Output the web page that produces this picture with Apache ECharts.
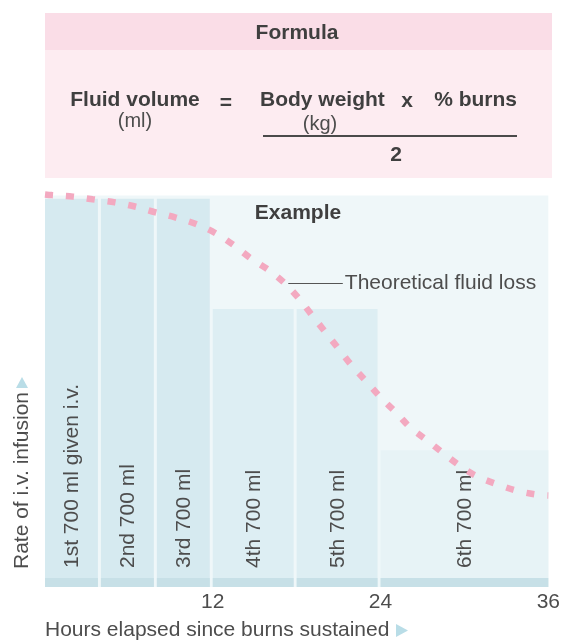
<!DOCTYPE html>
<html>
<head>
<meta charset="utf-8">
<script src="https://cdn.jsdelivr.net/npm/echarts@6/dist/echarts.min.js"></script>
<style>
  html, body { margin: 0; padding: 0; background: #ffffff; }
  #chart { width: 563px; height: 642px; }
</style>
</head>
<body>
<div id="chart"></div>
<script>
// Infusion schedule: each 700 ml portion given over a time window (hours)
const doseLabels = ['1st 700 ml given i.v.', '2nd 700 ml', '3rd 700 ml', '4th 700 ml', '5th 700 ml', '6th 700 ml'];
const doseStart = [0, 4, 8, 12, 18, 24];
const doseEnd = [4, 8, 12, 18, 24, 36];
// Relative rate of infusion (bar height)
const infusionRate = [176, 176, 176, 126, 126, 62];
const doseColors = ['#d6eaf0', '#d6eaf0', '#d6eaf0', '#ddeef3', '#ddeef3', '#e7f3f6'];

// Theoretical fluid loss curve (hours, relative rate)
const lossHours = [0, 0.5, 2, 3.4, 5, 6.5, 7.9, 9.3, 10.8, 12.2, 13.5, 14.7, 16, 17.2, 18.2, 19, 20, 21, 22, 23.1, 24, 25.2, 26.1, 27.3, 28.5, 29.6, 30.8, 32.5, 33.9, 35.3, 36];
const lossRate = [178, 177.7, 177, 175.8, 174.4, 172.4, 169.9, 167.6, 164.6, 160.4, 155, 149.1, 143.7, 137.4, 130.5, 124, 116, 108, 100, 92.4, 86, 78.5, 72.5, 66.6, 60.6, 55.3, 50.5, 46.2, 43.4, 41.8, 41.5];

// Axis ticks
const hoursTicks = [12, 24, 36];

const FONT = 'Liberation Sans';
const TEXT = '#4d4d4d';
const BOLD = '#3f3f3f';

const chart = echarts.init(document.getElementById('chart'), null, { renderer: 'canvas' });

const doseData = doseLabels.map((name, i) => [doseStart[i], doseEnd[i], infusionRate[i], i]);
const STRIP = 4.1;

const option = {
  animation: false,
  backgroundColor: '#ffffff',
  grid: { left: 45, right: 10, top: 190, bottom: 55 },
  xAxis: {
    type: 'value', min: 0, max: 36, interval: 12,
    axisLine: { show: false }, axisTick: { show: false }, splitLine: { show: false },
    axisLabel: {
      customValues: hoursTicks,
      color: TEXT, fontFamily: FONT, fontSize: 21, margin: 5
    }
  },
  yAxis: {
    type: 'value', min: 0, max: 180,
    axisLine: { show: false }, axisTick: { show: false },
    axisLabel: { show: false }, splitLine: { show: false }
  },
  graphic: [
    // Formula panel
    { type: 'rect', shape: { x: 45, y: 13, width: 507, height: 37 }, style: { fill: '#fadde7' }, z: 0 },
    { type: 'rect', shape: { x: 45, y: 50, width: 507, height: 128 }, style: { fill: '#fdecf1' }, z: 0 },
    { type: 'text', x: 297, y: 33, style: { text: 'Formula', fill: BOLD, font: 'bold 21px ' + FONT, align: 'center', verticalAlign: 'middle' } },
    { type: 'text', x: 135, y: 100, style: { text: 'Fluid volume', fill: BOLD, font: 'bold 21px ' + FONT, align: 'center', verticalAlign: 'middle' } },
    { type: 'text', x: 135, y: 121, style: { text: '(ml)', fill: TEXT, font: '20px ' + FONT, align: 'center', verticalAlign: 'middle' } },
    { type: 'text', x: 226, y: 103, style: { text: '=', fill: BOLD, font: 'bold 21px ' + FONT, align: 'center', verticalAlign: 'middle' } },
    { type: 'text', x: 260, y: 100, style: { text: 'Body weight', fill: BOLD, font: 'bold 21px ' + FONT, align: 'left', verticalAlign: 'middle' } },
    { type: 'text', x: 407, y: 101, style: { text: 'x', fill: BOLD, font: 'bold 21px ' + FONT, align: 'center', verticalAlign: 'middle' } },
    { type: 'text', x: 517, y: 100, style: { text: '% burns', fill: BOLD, font: 'bold 21px ' + FONT, align: 'right', verticalAlign: 'middle' } },
    { type: 'text', x: 320, y: 124, style: { text: '(kg)', fill: TEXT, font: '20px ' + FONT, align: 'center', verticalAlign: 'middle' } },
    { type: 'line', shape: { x1: 263, y1: 136, x2: 517, y2: 136 }, style: { stroke: '#4a4a4a', lineWidth: 2 } },
    { type: 'text', x: 396, y: 155, style: { text: '2', fill: BOLD, font: 'bold 21px ' + FONT, align: 'center', verticalAlign: 'middle' } },
    // Example heading
    { type: 'text', x: 298, y: 213, z: 10, style: { text: 'Example', fill: BOLD, font: 'bold 21px ' + FONT, align: 'center', verticalAlign: 'middle' } },
    // Axis titles with arrow heads
    { type: 'text', x: 22, y: 569, rotation: Math.PI / 2, style: { text: 'Rate of i.v. infusion', fill: TEXT, font: '21px ' + FONT, align: 'left', verticalAlign: 'middle' } },
    { type: 'polygon', shape: { points: [[16, 388], [28, 388], [22, 377]] }, style: { fill: '#b9dde7' } },
    { type: 'text', x: 45, y: 630, style: { text: 'Hours elapsed since burns sustained', fill: TEXT, font: '21px ' + FONT, align: 'left', verticalAlign: 'middle' } },
    { type: 'polygon', shape: { points: [[396, 624], [396, 637], [408, 630.5]] }, style: { fill: '#b9dde7' } }
  ],
  series: [
    {
      // plot background
      type: 'line', data: [], z: 1, silent: true,
      markArea: {
        silent: true,
        itemStyle: { color: '#eff7f9' },
        data: [[{ coord: [0, 0] }, { coord: [36, 177.5] }]]
      }
    },
    {
      type: 'custom', z: 2, silent: true,
      data: doseData,
      renderItem: function (params, api) {
        const s = api.value(0), e = api.value(1), r = api.value(2);
        const idx = api.value(3);
        const base = api.coord([s, 0]);
        const top = api.coord([e, r]);
        const stripTop = api.coord([s, STRIP]);
        const gap = idx < doseLabels.length - 1 ? 3 : 0;
        const x0 = base[0];
        const x1 = top[0] - gap;
        return {
          type: 'group',
          children: [
            { type: 'rect', shape: { x: x0, y: top[1], width: x1 - x0, height: base[1] - top[1] }, style: { fill: doseColors[idx] } },
            { type: 'rect', shape: { x: x0, y: stripTop[1], width: x1 - x0, height: base[1] - stripTop[1] }, style: { fill: '#c7e0e7' } },
            {
              type: 'text', x: (x0 + x1) / 2 + 1, y: base[1] - 19, rotation: Math.PI / 2,
              style: { text: doseLabels[idx], fill: TEXT, font: '21px ' + FONT, align: 'left', verticalAlign: 'middle' }
            }
          ]
        };
      }
    },
    {
      type: 'line', z: 5, silent: true,
      data: lossHours.map((h, i) => [h, lossRate[i]]),
      smooth: 0.35,
      symbol: 'none',
      clip: false,
      lineStyle: { color: '#f3a9c0', width: 6.5, type: [8, 13], cap: 'butt' },
      markLine: {
        silent: true,
        symbol: 'none',
        lineStyle: { color: '#555555', width: 1, type: 'solid' },
        label: { show: true, position: 'end', formatter: 'Theoretical fluid loss', color: TEXT, fontFamily: FONT, fontSize: 21, distance: 2 },
        data: [[{ coord: [17.4, 137.8] }, { coord: [21.3, 137.8] }]]
      }
    }
  ]
};

chart.setOption(option);
</script>
</body>
</html>
